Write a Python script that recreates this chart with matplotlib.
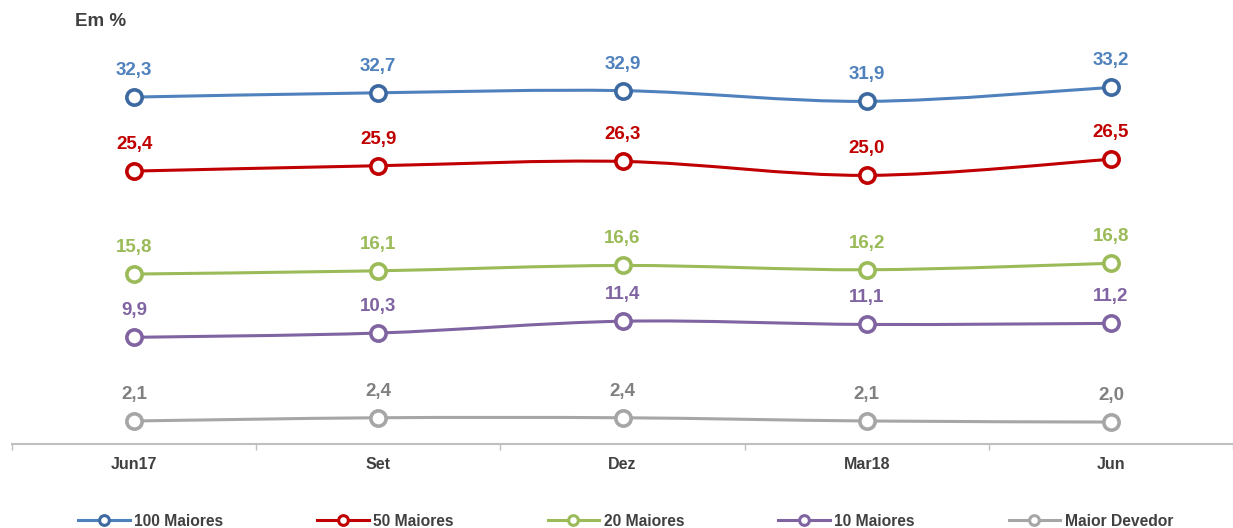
#
# plot.py - concentracao da carteira (Em %)
#
import numpy as np
import matplotlib.pyplot as plt
from matplotlib.path import Path
from matplotlib.patches import PathPatch
from matplotlib.lines import Line2D

# dados
periodos = ['Jun17', 'Set', 'Dez', 'Mar18', 'Jun']
maiores_100 = [32.3, 32.7, 32.9, 31.9, 33.2]
maiores_50 = [25.4, 25.9, 26.3, 25.0, 26.5]
maiores_20 = [15.8, 16.1, 16.6, 16.2, 16.8]
maiores_10 = [9.9, 10.3, 11.4, 11.1, 11.2]
maior_devedor = [2.1, 2.4, 2.4, 2.1, 2.0]

series = [
    ('100 Maiores', maiores_100, '#4F81BD', '#3C69A0', '#4F81BD'),
    ('50 Maiores', maiores_50, '#C00000', '#C00000', '#C00000'),
    ('20 Maiores', maiores_20, '#9BBB59', '#9BBB59', '#9BBB59'),
    ('10 Maiores', maiores_10, '#8064A2', '#8064A2', '#8064A2'),
    ('Maior Devedor', maior_devedor, '#A6A6A6', '#A6A6A6', '#808080'),
]

plt.rcParams['font.family'] = ['Liberation Sans', 'DejaVu Sans']
texto = '#404040'


def curva_suave(x, y):
    # bezier tipo catmull-rom, como a linha suavizada do excel
    x = np.asarray(x, float)
    y = np.asarray(y, float)
    n = len(x)
    verts = [(x[0], y[0])]
    codes = [Path.MOVETO]
    for i in range(n - 1):
        x0, y0 = (x[i - 1], y[i - 1]) if i > 0 else (x[i], y[i])
        x3, y3 = (x[i + 2], y[i + 2]) if i + 2 < n else (x[i + 1], y[i + 1])
        c1 = (x[i] + (x[i + 1] - x0) / 6, y[i] + (y[i + 1] - y0) / 6)
        c2 = (x[i + 1] - (x3 - x[i]) / 6, y[i + 1] - (y3 - y[i]) / 6)
        verts += [c1, c2, (x[i + 1], y[i + 1])]
        codes += [Path.CURVE4] * 3
    return Path(verts, codes)


fig = plt.figure(figsize=(12.33, 5.28), dpi=100)
ax = fig.add_axes([12 / 1233, 84.5 / 528, 1 - 12 / 1233, 429 / 528])

xs = np.arange(len(periodos))
handles = []
for nome, valores, cor, borda, cor_rotulo in series:
    ax.add_patch(PathPatch(curva_suave(xs, valores), facecolor='none',
                           edgecolor=cor, lw=2.2, zorder=2))
    ax.plot(xs, valores, ls='none', marker='o', ms=11, mfc='white',
            mec=borda, mew=2.6, zorder=3)
    for x, v in zip(xs, valores):
        ax.annotate(f'{v:.1f}'.replace('.', ','), (x, v), xytext=(0, 13),
                    textcoords='offset points', ha='center', va='bottom',
                    fontsize=13.5, fontweight='bold', color=cor_rotulo)
    handles.append(Line2D([], [], color=cor, lw=2.2, marker='o', ms=7,
                          mfc='white', mec=borda, mew=2.2, label=nome))

ax.set_xlim(-0.5, 4.48)
ax.set_ylim(0, 40)
ax.set_yticks([])
for lado in ['top', 'right', 'left']:
    ax.spines[lado].set_visible(False)
ax.spines['bottom'].set_color('#BFBFBF')
ax.spines['bottom'].set_linewidth(1.5)

ax.set_xticks(xs)
ax.set_xticklabels(periodos, fontsize=11.5, fontweight='bold', color=texto)
ax.tick_params(axis='x', which='major', length=0, pad=10)
ax.set_xticks(np.arange(-0.5, 5, 1), minor=True)
ax.tick_params(axis='x', which='minor', length=4, width=1, color='#BFBFBF')

fig.text(75 / 1233, 1 - 22 / 528, 'Em %', fontsize=13.5, fontweight='bold',
         color=texto, va='center')

fig.legend(handles=handles, loc='center left',
           bbox_to_anchor=(78 / 1233, 1 - 521 / 528),
           ncol=5, frameon=False, handlelength=3.3, columnspacing=6.0,
           prop={'weight': 'bold', 'size': 11.25}, labelcolor=texto,
           handletextpad=0.3, borderpad=0, borderaxespad=0)

fig.savefig('out.png', dpi=100)
